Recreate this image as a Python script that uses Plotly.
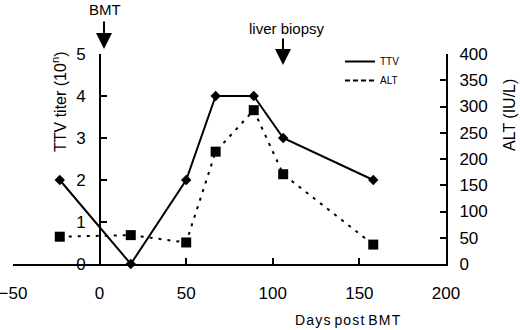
import plotly.graph_objects as go

days_ttv = [-23, 18, 50, 67, 89, 106, 158]
ttv = [2, 0, 2, 4, 4, 3, 2]
days_alt = [-23, 18, 50, 67, 89, 106, 158]
alt = [52, 55, 41, 214, 293, 171, 37]

FONT = "Liberation Sans, Arial, sans-serif"
x0, x1 = 13, 446
top, bot = 54, 264
ypos = (100 - x0) / (x1 - x0)


def px(p):
    return (p - x0) / (x1 - x0)


def py(p):
    return (bot - p) / (bot - top)


fig = go.Figure()
fig.add_trace(go.Scatter(x=days_ttv, y=ttv, mode="lines+markers",
                         line=dict(color="black", width=2),
                         marker=dict(symbol="diamond", size=8, color="black"),
                         showlegend=False, yaxis="y", cliponaxis=False))
fig.add_trace(go.Scatter(x=days_alt, y=alt, mode="lines+markers",
                         line=dict(color="black", width=2, dash="3px,6px"),
                         marker=dict(symbol="square", size=10, color="black"),
                         showlegend=False, yaxis="y2", cliponaxis=False))
fig.add_trace(go.Scatter(x=[None], y=[None], mode="lines", name="TTV",
                         line=dict(color="black", width=2)))
fig.add_trace(go.Scatter(x=[None], y=[None], mode="lines", name="ALT",
                         line=dict(color="black", width=2, dash="5px,3px")))

fig.update_layout(
    width=520, height=330,
    margin=dict(l=x0, r=520 - x1, t=top, b=330 - bot, autoexpand=False),
    paper_bgcolor="white", plot_bgcolor="white",
    font=dict(family=FONT, color="black", size=16),
    xaxis=dict(range=[-50, 200], dtick=50, showline=True, linecolor="black", linewidth=2,
               ticks="inside", ticklen=6, tickwidth=2, tickcolor="black",
               showgrid=False, zeroline=False, anchor="y", ticklabelstandoff=13,
               ticklabeloverflow="allow", automargin=False, tickfont=dict(size=17)),
    yaxis=dict(range=[0, 5], dtick=1, showline=True, linecolor="black", linewidth=2,
               ticks="inside", ticklen=6, tickwidth=2, tickcolor="black",
               showgrid=False, zeroline=False, anchor="free", position=ypos,
               ticklabelstandoff=10, automargin=False, tickfont=dict(size=17)),
    yaxis2=dict(range=[0, 400], dtick=50, showline=True, linecolor="black", linewidth=2,
                ticks="inside", ticklen=6, tickwidth=2, tickcolor="black",
                showgrid=False, zeroline=False, overlaying="y", side="right", anchor="x",
                ticklabelstandoff=8, automargin=False, tickfont=dict(size=17)),
    legend=dict(x=px(340), y=py(47), xanchor="left", yanchor="top", font=dict(size=10),
                bgcolor="rgba(0,0,0,0)", tracegroupgap=0),
    showlegend=True,
)

def text(x, y, s, angle=0, size=15):
    fig.add_annotation(x=px(x), y=py(y), xref="paper", yref="paper", text=s,
                       showarrow=False, textangle=angle, font=dict(size=size),
                       xanchor="center", yanchor="middle")

def arrow(x, yhead, length):
    fig.add_annotation(x=px(x), y=py(yhead), xref="paper", yref="paper", text="",
                       showarrow=True, arrowhead=2, arrowsize=1.6, arrowwidth=2,
                       arrowcolor="black", ax=0, ay=-length)

text(59, 102, "TTV titer (10<sup>n</sup>)", angle=-90, size=16)
text(509, 115, "ALT (IU/L)", angle=-90, size=16)
text(105, 9, "BMT")
arrow(104, 49, 29)
text(287, 28, "liver biopsy")
arrow(283, 65, 28)
text(348, 320, "D a y s  p o s t  B M T".replace("  ", "\u2009 ").replace(" ", "\u200a"), size=14)

fig.write_html("out.html", config={"displayModeBar": False},
               post_script="document.body.style.margin='0';")
